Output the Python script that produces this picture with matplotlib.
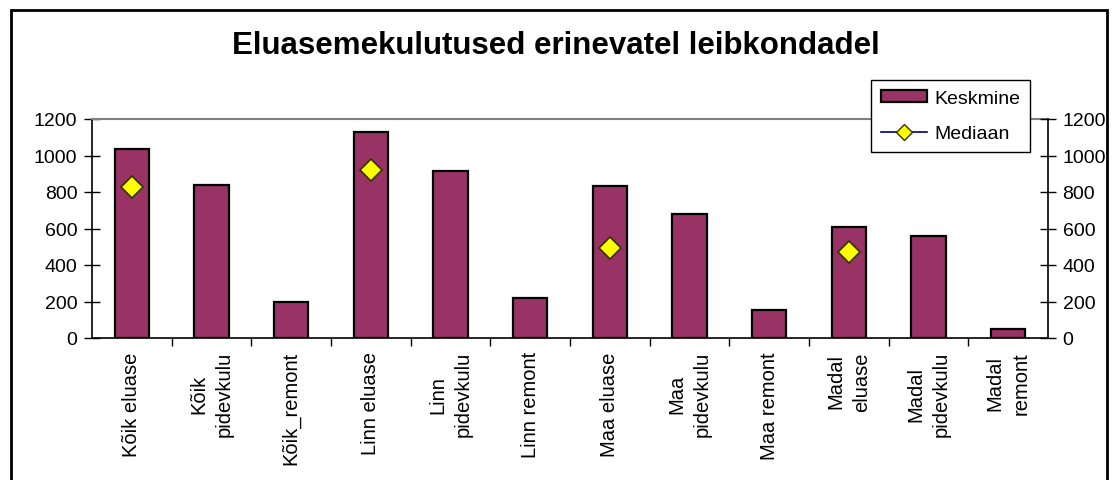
"""Eluasemekulutused erinevatel leibkondadel."""

import matplotlib

matplotlib.use("Agg")
import matplotlib.pyplot as plt
from matplotlib.lines import Line2D
from matplotlib.patches import Patch, Rectangle

plt.rcParams["font.family"] = ["Liberation Sans", "DejaVu Sans"]

categories = [
    "Kõik eluase", "Kõik\npidevkulu", "Kõik_remont",
    "Linn eluase", "Linn\npidevkulu", "Linn remont",
    "Maa eluase", "Maa\npidevkulu", "Maa remont",
    "Madal\neluase", "Madal\npidevkulu", "Madal\nremont",
]
keskmine = [1035, 840, 197, 1129, 913, 217, 831, 678, 155, 607, 557, 52]
mediaan = [829, None, None, 923, None, None, 493, None, None, 471, None, None]
yticks = [0, 200, 400, 600, 800, 1000, 1200]

BAR = "#993366"
MARK = "#FFFF00"
LINE = "#000080"

fig = plt.figure(figsize=(11.12, 4.81), dpi=100)
ax = fig.add_axes([92 / 1112, 1 - 339 / 481, (1048 - 92) / 1112, (339 - 120) / 481])

x = list(range(len(categories)))
ax.bar(x, keskmine, width=0.43, color=BAR, edgecolor="black", linewidth=1.6, zorder=2)

mx = [i for i, v in zip(x, mediaan) if v is not None]
my = [v for v in mediaan if v is not None]
ax.plot(mx, my, linestyle="none", marker="D", markersize=11, markerfacecolor=MARK,
        markeredgecolor="#333300", markeredgewidth=1.2, zorder=3)

ax.set_xlim(-0.5, len(categories) - 0.5)
ax.set_ylim(0, 1200)
ax.set_yticks(yticks)

# category boundaries as x ticks, labels under each bar
ax.set_xticks([i + 0.5 for i in x[:-1]])
ax.set_xticklabels([])
ax.tick_params(axis="x", direction="out", length=6, width=1, color="black")
for i, lab in zip(x, categories):
    ax.text(i, -0.06, lab, transform=ax.get_xaxis_transform(), rotation=90,
            ha="center", va="top", multialignment="center", fontsize=14.5,
            linespacing=1.45)

ax.tick_params(axis="y", direction="inout", length=11, width=1, labelsize=14, pad=5)
for side in ("left", "bottom"):
    ax.spines[side].set_color("black")
    ax.spines[side].set_linewidth(1.2)
ax.spines["right"].set_visible(False)
ax.spines["top"].set_color("#808080")
ax.spines["top"].set_linewidth(1.5)

ax2 = ax.twinx()
ax2.set_ylim(0, 1200)
ax2.set_yticks(yticks)
ax2.tick_params(axis="y", direction="inout", length=11, width=1, labelsize=14, pad=5)
for side in ("left", "top", "bottom"):
    ax2.spines[side].set_visible(False)
ax2.spines["right"].set_color("black")
ax2.spines["right"].set_linewidth(1.2)

fig.text(0.5, 1 - 46 / 481, "Eluasemekulutused erinevatel leibkondadel",
         ha="center", va="center", fontsize=22.5, fontweight="bold")

handles = [
    Patch(facecolor=BAR, edgecolor="black", linewidth=1.6),
    Line2D([], [], color=LINE, linewidth=1.2, marker="D", markersize=8,
           markerfacecolor=MARK, markeredgecolor="#333300"),
]
leg = fig.legend(handles, ["Keskmine", "Mediaan"], loc="upper left",
                 bbox_to_anchor=(871 / 1112, 1 - 81 / 481), fontsize=14,
                 frameon=True, fancybox=False, framealpha=1, edgecolor="black",
                 handlelength=2.4, handleheight=0.6, handletextpad=0.35,
                 borderpad=0.5, labelspacing=0.95, borderaxespad=0)
leg.get_frame().set_linewidth(1.0)
leg.set_zorder(10)

fig.patches.append(Rectangle((10.5 / 1112, -0.05), (1107 - 10.5) / 1112, 1.05 - 10.5 / 481,
                             transform=fig.transFigure, fill=False, edgecolor="black",
                             linewidth=2, clip_on=False))

fig.savefig("out.png", dpi=100)
